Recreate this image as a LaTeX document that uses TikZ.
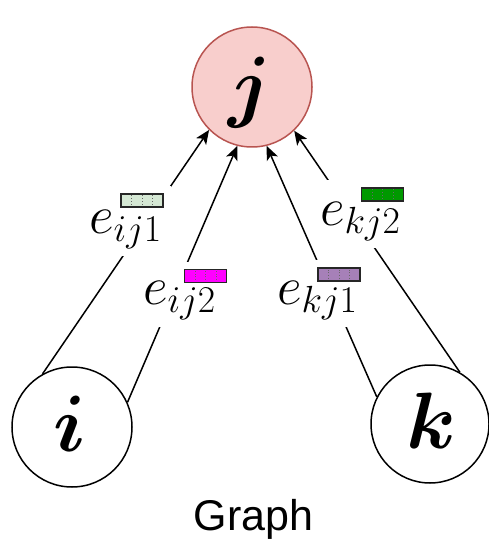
\RequirePackage{fix-cm}
\documentclass[tikz,border=0pt]{standalone}
\usepackage{bm}
\usepackage{fontspec}
\newfontfamily\graphfont{Liberation Sans}
\usetikzlibrary{arrows.meta,fit,calc}
\definecolor{jfill}{HTML}{F8CECC}
\definecolor{jdraw}{HTML}{B85450}
\definecolor{cone}{HTML}{D5E8D4}
\definecolor{ctwo}{HTML}{FF00FF}
\definecolor{cthree}{HTML}{A680B8}
\definecolor{cfour}{HTML}{009900}
\pgfdeclarelayer{lineslayer}
\pgfdeclarelayer{gapslayer}
\pgfsetlayers{lineslayer,gapslayer,main}
\tikzset{
  vert/.style={circle, draw, line width=1.5pt, minimum size=120pt, inner sep=0pt},
  lett/.style={inner sep=0pt, font=\fontsize{80}{80}\selectfont},
  edge/.style={line width=1.5pt, -{Stealth[length=14pt,width=12pt,inset=3.5pt]}},
  elabel/.style={anchor=base west, inner sep=0pt, font=\fontsize{54}{60}\selectfont},
  ebox/.style={draw=black!85, line width=1.2pt, fill=#1, minimum width=42pt, minimum height=13pt, inner sep=0pt,
    path picture={\foreach \f in {0.25,0.5,0.75}{\draw[black!60, dotted, line width=0.7pt]
      ($(path picture bounding box.south west)!\f!(path picture bounding box.south east)$) --
      ($(path picture bounding box.north west)!\f!(path picture bounding box.north east)$);}}},
  gapbox/.style={fill=white, draw=none, inner sep=7pt},
}
\begin{document}
\begin{tikzpicture}[x=1pt,y=-1pt]
\useasboundingbox (0,0) rectangle (488,545);
% vertices
\node[vert, fill=jfill, draw=jdraw] (j) at (252,87) {};
\node[vert] (i) at (72,427) {};
\node[vert, minimum size=118pt] (k) at (430,424) {};
\node[lett] (jt) at (250,93) {$\bm{j}$};
\node[lett] (it) at (70,424) {$\bm{i}$};
\node[lett] (kt) at (431,421) {$\bm{k}$};
% edge labels
\node[elabel] (t1) at (89,233) {$e_{ij1}$};
\node[ebox=cone] (b1) at (142,200.5) {};
\node[elabel] (t2) at (143,304) {$e_{ij2}$};
\node[ebox=ctwo] (b2) at (205.5,276) {};
\node[elabel] (t3) at (277,304) {$e_{kj1}$};
\node[ebox=cthree] (b3) at (339,274.5) {};
\node[elabel] (t4) at (320,225) {$e_{kj2}$};
\node[ebox=cfour] (b4) at (382.5,194.5) {};
\begin{pgfonlayer}{gapslayer}
\node[gapbox, fit=(t1)(b1)] (g1) {};
\node[gapbox, fit=(t2)(b2)] (g2) {};
\node[gapbox, fit=(t3)(b3)] (g3) {};
\node[gapbox, fit=(t4)(b4)] (g4) {};
\end{pgfonlayer}
\begin{pgfonlayer}{lineslayer}
\draw[edge] (i.119) -- (j.225);
\draw[edge] (i.24) -- (j.256);
\draw[edge] (k.153) -- (j.284);
\draw[edge] (k.60) -- (j.314);
\end{pgfonlayer}
% caption
\node[anchor=base, inner sep=0pt, font=\graphfont\fontsize{43}{50}\selectfont] (cap) at (253.5,530) {Graph};
\end{tikzpicture}
\end{document}
